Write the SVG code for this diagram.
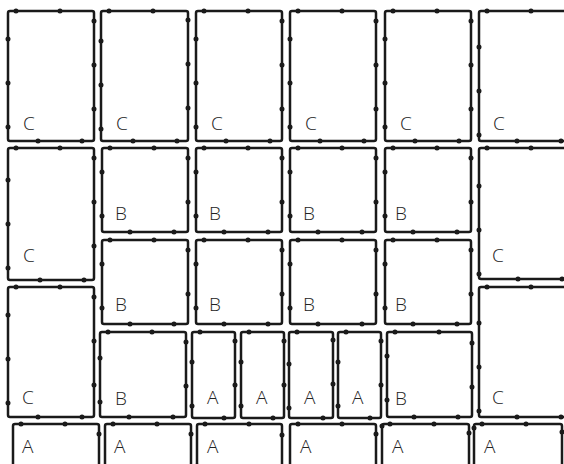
<svg xmlns="http://www.w3.org/2000/svg" width="564" height="464" viewBox="0 0 564 464">
<style>
.p{fill:#fff;stroke:#1a1a1a;stroke-width:2.5;rx:2px}
.d{fill:none;stroke:#1a1a1a;stroke-width:5;stroke-linecap:round;stroke-dasharray:0 44;stroke-dashoffset:-8}
text{font-family:"Open Sans","Liberation Sans",sans-serif;font-weight:300;font-size:19px;fill:#222}
</style>
<rect width="564" height="464" fill="#fff"/>
<g id="c1"><rect class="p" x="8" y="11" width="86" height="130"/><rect class="d" x="8" y="11" width="86" height="130"/><text x="23" y="130">C</text></g>
<g id="c2"><rect class="p" x="101" y="11" width="87" height="130"/><rect class="d" x="101" y="11" width="87" height="130"/><text x="116" y="130">C</text></g>
<g id="c3"><rect class="p" x="196" y="11" width="86" height="130"/><rect class="d" x="196" y="11" width="86" height="130"/><text x="211" y="130">C</text></g>
<g id="c4"><rect class="p" x="290" y="11" width="86" height="130"/><rect class="d" x="290" y="11" width="86" height="130"/><text x="305" y="130">C</text></g>
<g id="c5"><rect class="p" x="385" y="11" width="86" height="130"/><rect class="d" x="385" y="11" width="86" height="130"/><text x="400" y="130">C</text></g>
<g id="c6"><rect class="p" x="479" y="11" width="90" height="130"/><rect class="d" x="479" y="11" width="90" height="130"/><text x="493" y="130">C</text></g>
<g id="c7"><rect class="p" x="8" y="148" width="86" height="132"/><rect class="d" x="8" y="148" width="86" height="132"/><text x="23" y="262">C</text></g>
<g id="c8"><rect class="p" x="479" y="148" width="90" height="131"/><rect class="d" x="479" y="148" width="90" height="131"/><text x="492" y="262">C</text></g>
<g id="c9"><rect class="p" x="8" y="287" width="86" height="130"/><rect class="d" x="8" y="287" width="86" height="130"/><text x="22" y="404">C</text></g>
<g id="c10"><rect class="p" x="479" y="287" width="90" height="130"/><rect class="d" x="479" y="287" width="90" height="130"/><text x="492" y="404">C</text></g>
<g id="b1"><rect class="p" x="102" y="148" width="86" height="84"/><rect class="d" x="102" y="148" width="86" height="84"/><text x="115" y="220">B</text></g>
<g id="b2"><rect class="p" x="196" y="148" width="86" height="84"/><rect class="d" x="196" y="148" width="86" height="84"/><text x="209" y="220">B</text></g>
<g id="b3"><rect class="p" x="290" y="148" width="86" height="84"/><rect class="d" x="290" y="148" width="86" height="84"/><text x="303" y="220">B</text></g>
<g id="b4"><rect class="p" x="385" y="148" width="86" height="84"/><rect class="d" x="385" y="148" width="86" height="84"/><text x="395" y="220">B</text></g>
<g id="b5"><rect class="p" x="102" y="240" width="86" height="84"/><rect class="d" x="102" y="240" width="86" height="84"/><text x="115" y="311">B</text></g>
<g id="b6"><rect class="p" x="196" y="240" width="86" height="84"/><rect class="d" x="196" y="240" width="86" height="84"/><text x="209" y="311">B</text></g>
<g id="b7"><rect class="p" x="290" y="240" width="86" height="84"/><rect class="d" x="290" y="240" width="86" height="84"/><text x="303" y="311">B</text></g>
<g id="b8"><rect class="p" x="385" y="240" width="86" height="84"/><rect class="d" x="385" y="240" width="86" height="84"/><text x="395" y="311">B</text></g>
<g id="b9"><rect class="p" x="100" y="332" width="86" height="85"/><rect class="d" x="100" y="332" width="86" height="85"/><text x="115" y="405">B</text></g>
<g id="b10"><rect class="p" x="387" y="332" width="85" height="85"/><rect class="d" x="387" y="332" width="85" height="85"/><text x="395" y="405">B</text></g>
<g id="a1"><rect class="p" x="192" y="332" width="43" height="86"/><rect class="d" x="192" y="332" width="43" height="86"/><text x="207" y="404">A</text></g>
<g id="a2"><rect class="p" x="241" y="332" width="43" height="86"/><rect class="d" x="241" y="332" width="43" height="86"/><text x="256" y="404">A</text></g>
<g id="a3"><rect class="p" x="289" y="332" width="44" height="86"/><rect class="d" x="289" y="332" width="44" height="86"/><text x="304" y="404">A</text></g>
<g id="a4"><rect class="p" x="338" y="332" width="43" height="86"/><rect class="d" x="338" y="332" width="43" height="86"/><text x="352" y="404">A</text></g>
<g id="a5"><rect class="p" x="13" y="424" width="86" height="50"/><rect class="d" x="13" y="424" width="86" height="50"/><text x="22" y="453">A</text></g>
<g id="a6"><rect class="p" x="105" y="424" width="86" height="50"/><rect class="d" x="105" y="424" width="86" height="50"/><text x="114" y="453">A</text></g>
<g id="a7"><rect class="p" x="197" y="424" width="85" height="50"/><rect class="d" x="197" y="424" width="85" height="50"/><text x="207" y="453">A</text></g>
<g id="a8"><rect class="p" x="290" y="424" width="86" height="50"/><rect class="d" x="290" y="424" width="86" height="50"/><text x="300" y="453">A</text></g>
<g id="a9"><rect class="p" x="382" y="424" width="87" height="50"/><rect class="d" x="382" y="424" width="87" height="50"/><text x="392" y="453">A</text></g>
<g id="a10"><rect class="p" x="474" y="424" width="88" height="50"/><rect class="d" x="474" y="424" width="88" height="50"/><text x="484" y="453">A</text></g>
<g id="connectors"/>
</svg>
